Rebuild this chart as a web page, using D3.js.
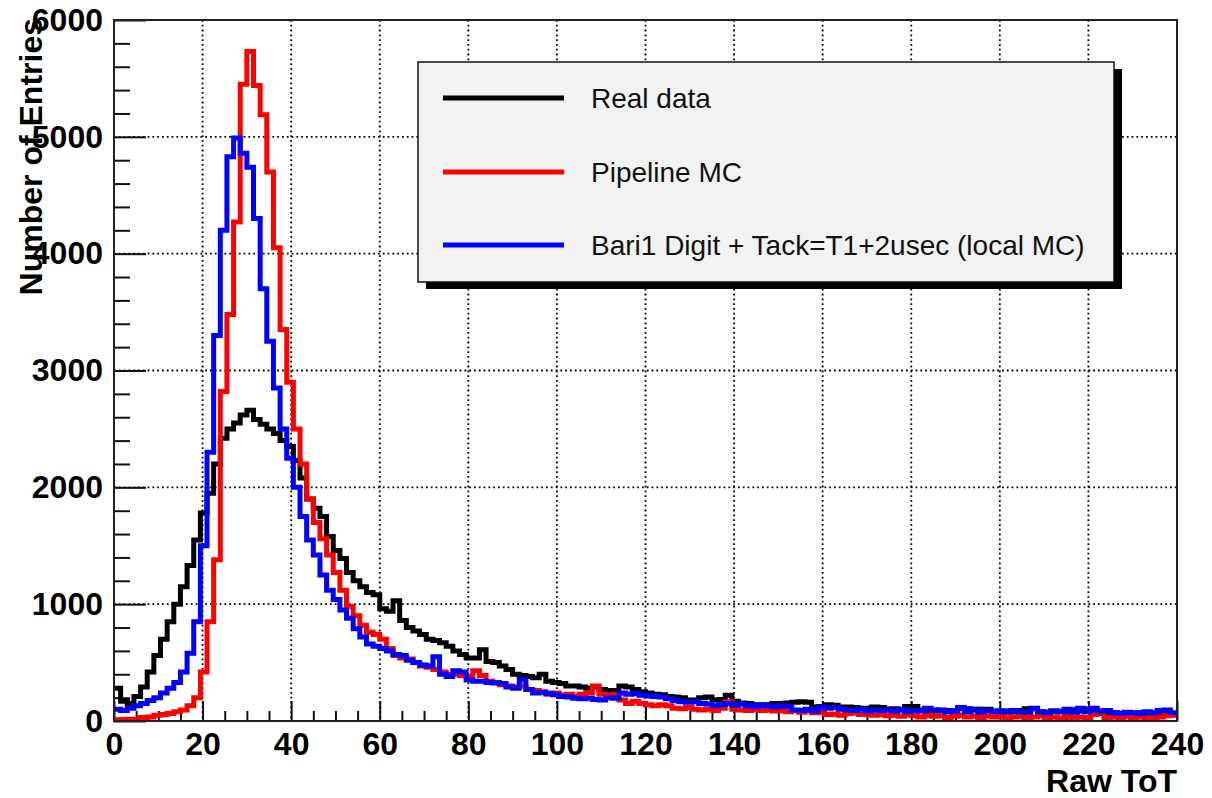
<!DOCTYPE html>
<html>
<head>
<meta charset="utf-8">
<script src="https://cdn.jsdelivr.net/npm/d3@7"></script>
<style>
  body { margin: 0; background: #fff; }
  text { font-family: "Liberation Sans", Arial, Helvetica, sans-serif; }
</style>
</head>
<body>
<svg id="chart" width="1212" height="798"></svg>
<script>
// histogram: 160 bins of 1.5 ToT counts from 0 to 240
const binWidth = 1.5;

const realData = [
  280, 170, 150, 210, 290, 420, 560, 700, 850, 1000,
  1150, 1330, 1550, 1780, 1950, 2200, 2420, 2500, 2550, 2620,
  2660, 2580, 2540, 2500, 2460, 2400, 2350, 2230, 2080, 1900,
  1820, 1750, 1580, 1460, 1390, 1270, 1200, 1150, 1100, 1080,
  960, 940, 1030, 860, 800, 770, 740, 700, 690, 670,
  640, 600, 570, 540, 540, 610, 510, 500, 470, 440,
  400, 390, 380, 370, 400, 340, 330, 320, 300, 300,
  290, 280, 290, 270, 260, 260, 300, 290, 270, 250,
  240, 230, 225, 210, 205, 200, 180, 180, 200, 205,
  180, 185, 220, 170, 155, 150, 140, 135, 140, 150,
  150, 155, 160, 165, 160, 120, 125, 140, 135, 120,
  120, 115, 110, 110, 120, 115, 100, 105, 95, 125,
  125, 95, 90, 85, 95, 90, 85, 110, 105, 95,
  100, 100, 80, 85, 75, 80, 90, 105, 110, 80,
  75, 85, 80, 90, 95, 85, 100, 95, 65, 60,
  70, 65, 55, 60, 70, 55, 60, 65, 55, 60
];

const pipelineMC = [
  10, 12, 15, 15, 30, 35, 50, 55, 65, 80,
  95, 130, 200, 420, 850, 1380, 2820, 3480, 4270, 5450,
  5730, 5440, 5190, 4700, 4050, 3350, 2900, 2500, 2200, 1900,
  1700, 1560, 1420, 1270, 1120, 980, 900, 820, 760, 740,
  700, 620, 560, 540, 530, 500, 470, 460, 440, 420,
  400, 400, 390, 380, 430, 390, 340, 330, 310, 300,
  290, 300, 270, 260, 250, 230, 240, 220, 230, 210,
  230, 240, 300, 230, 220, 230, 180, 150, 170, 150,
  140, 130, 140, 130, 110, 105, 115, 100, 95, 100,
  90, 110, 165, 100, 95, 90, 100, 90, 95, 85,
  90, 80, 90, 75, 85, 70, 75, 55, 60, 50,
  65, 70, 55, 60, 50, 55, 45, 50, 40, 55,
  45, 35, 50, 40, 45, 30, 40, 50, 35, 40,
  30, 45, 35, 40, 25, 35, 40, 30, 35, 45,
  30, 35, 25, 40, 30, 35, 30, 55, 75, 30,
  35, 25, 40, 30, 35, 30, 25, 35, 45, 50
];

const localMC = [
  100, 90, 110, 130, 150, 175, 200, 240, 280, 330,
  420, 580, 850, 1500, 2300, 3300, 4200, 4830, 4990, 4860,
  4740, 4300, 3700, 3250, 2850, 2500, 2250, 2000, 1750, 1550,
  1420, 1250, 1120, 1040, 950, 880, 790, 720, 660, 640,
  620, 600, 570, 560, 520, 500, 480, 470, 550, 400,
  380, 430, 420, 350, 340, 340, 330, 325, 320, 290,
  280, 350, 270, 240, 245, 235, 225, 210, 205, 195,
  190, 195, 185, 180, 200, 195, 240, 230, 235, 220,
  215, 210, 205, 190, 175, 165, 160, 165, 150, 145,
  130, 140, 150, 135, 145, 130, 125, 140, 130, 120,
  130, 125, 95, 90, 100, 85, 120, 110, 115, 100,
  95, 90, 100, 85, 95, 90, 95, 85, 100, 80,
  90, 85, 110, 95, 90, 80, 85, 115, 80, 100,
  75, 90, 85, 80, 85, 90, 80, 75, 105, 80,
  70, 85, 80, 100, 75, 110, 80, 110, 85, 90,
  70, 65, 75, 70, 65, 80, 70, 90, 95, 70
];

const seriesNames = ["Real data", "Pipeline MC", "Bari1 Digit + Tack=T1+2usec (local MC)"];
const seriesColors = ["#000000", "#ff0000", "#0000ff"];
const seriesData = [realData, pipelineMC, localMC];

const xTicks = d3.range(0, 241, 20);
const xMinor = d3.range(0, 241, 5).filter(v => v % 20 !== 0);
const yTicks = d3.range(0, 6001, 1000);
const yMinor = d3.range(0, 6001, 200).filter(v => v % 1000 !== 0);

const svg = d3.select('#chart');
const margin = {top: 20, right: 35, bottom: 77, left: 114};
const width = +svg.attr('width') - margin.left - margin.right;
const height = +svg.attr('height') - margin.top - margin.bottom;

const x = d3.scaleLinear().domain([0, 240]).range([0, width]);
const y = d3.scaleLinear().domain([0, 6000]).range([height, 0]);

const g = svg.append('g').attr('transform', 'translate(' + margin.left + ',' + margin.top + ')');

g.append('clipPath').attr('id', 'frame-clip')
  .append('rect').attr('x', 0).attr('y', 0).attr('width', width).attr('height', height);

// dotted grid
g.append('g').selectAll('line')
  .data(xTicks.filter(v => v > 0 && v < 240))
  .enter().append('line')
  .attr('x1', d => x(d)).attr('x2', d => x(d))
  .attr('y1', 0).attr('y2', height)
  .attr('stroke', '#000').attr('stroke-width', 1.8)
  .attr('stroke-dasharray', '1.8,3');

g.append('g').selectAll('line')
  .data(yTicks.filter(v => v > 0 && v < 6000))
  .enter().append('line')
  .attr('x1', 0).attr('x2', width)
  .attr('y1', d => y(d)).attr('y2', d => y(d))
  .attr('stroke', '#000').attr('stroke-width', 1.8)
  .attr('stroke-dasharray', '1.8,3');

// axes, ticks drawn inside the frame like ROOT
const xAxis = d3.axisBottom(x).tickValues(xTicks).tickSize(-20).tickPadding(11).tickFormat(d3.format('d'));
const xAxisMinor = d3.axisBottom(x).tickValues(xMinor).tickSize(-10).tickFormat('');
const yAxis = d3.axisLeft(y).tickValues(yTicks).tickSize(-32).tickPadding(11).tickFormat(d3.format('d'));
const yAxisMinor = d3.axisLeft(y).tickValues(yMinor).tickSize(-16).tickFormat('');

function styleAxis(sel) {
  sel.select('.domain').remove();
  sel.selectAll('.tick line').attr('stroke', '#111').attr('stroke-width', 2);
  sel.selectAll('.tick text')
    .attr('fill', '#000')
    .style('font-family', '"Liberation Sans", Arial, sans-serif')
    .style('font-size', '32px')
    .style('font-weight', 'bold');
}

g.append('g').attr('transform', 'translate(0,' + height + ')').call(xAxis).call(styleAxis);
g.append('g').attr('transform', 'translate(0,' + height + ')').call(xAxisMinor).call(styleAxis);
g.append('g').call(yAxis).call(styleAxis);
g.append('g').call(yAxisMinor).call(styleAxis);

// histograms as step outlines
const line = d3.line().x(d => x(d[0])).y(d => y(d[1]));

function stepPoints(values) {
  const pts = [];
  values.forEach((v, i) => {
    pts.push([i * binWidth, v]);
    pts.push([(i + 1) * binWidth, v]);
  });
  return pts;
}

g.append('g').attr('clip-path', 'url(#frame-clip)')
  .selectAll('path')
  .data(seriesData)
  .enter().append('path')
  .attr('d', d => line(stepPoints(d)))
  .attr('fill', 'none')
  .attr('stroke', (d, i) => seriesColors[i])
  .attr('stroke-width', 5)
  .attr('stroke-linejoin', 'miter');

// frame
g.append('rect')
  .attr('x', 0).attr('y', 0).attr('width', width).attr('height', height)
  .attr('fill', 'none').attr('stroke', '#222').attr('stroke-width', 2);

// axis titles
svg.append('text')
  .attr('x', margin.left + width).attr('y', 792)
  .attr('text-anchor', 'end')
  .style('font-size', '32px').style('font-weight', 'bold')
  .text('Raw ToT');

svg.append('text')
  .attr('transform', 'translate(42,' + (margin.top - 2) + ') rotate(-90)')
  .attr('text-anchor', 'end')
  .style('font-size', '32px').style('font-weight', 'bold')
  .text('Number of Entries');

// legend with drop shadow
const legend = svg.append('g').attr('transform', 'translate(418,62)');
const legendW = 696, legendH = 220;

legend.append('rect')
  .attr('x', 8).attr('y', 7).attr('width', legendW).attr('height', legendH)
  .attr('fill', '#000');
legend.append('rect')
  .attr('x', 0).attr('y', 0).attr('width', legendW).attr('height', legendH)
  .attr('fill', '#f2f2f2').attr('stroke', '#111').attr('stroke-width', 1.5);

const rowY = [36, 110, 183];
const items = legend.selectAll('.item')
  .data(seriesNames)
  .enter().append('g')
  .attr('class', 'item')
  .attr('transform', (d, i) => 'translate(0,' + rowY[i] + ')');

items.append('line')
  .attr('x1', 25).attr('x2', 146)
  .attr('y1', 0).attr('y2', 0)
  .attr('stroke', (d, i) => seriesColors[i])
  .attr('stroke-width', 5);

items.append('text')
  .attr('x', 173).attr('y', 0).attr('dy', '0.35em')
  .style('font-size', '28px')
  .attr('fill', '#111')
  .text(d => d);
</script>
</body>
</html>
